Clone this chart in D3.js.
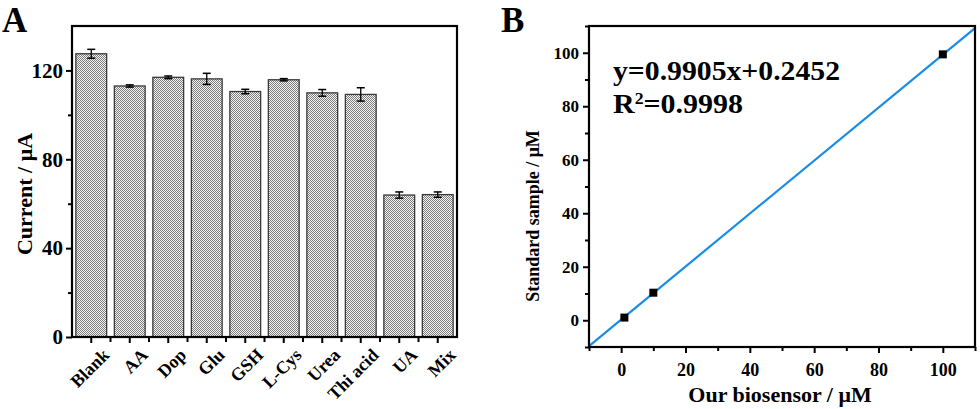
<!DOCTYPE html>
<html>
<head>
<meta charset="utf-8">
<style>
  body { margin: 0; background: #fff; }
  text { font-family: "Liberation Serif", "Times New Roman", serif; font-weight: bold; fill: #000; }
  .axis path, .axis line { stroke: #000; }
</style>
</head>
<body>
<div id="chart"></div>
<script src="https://d3js.org/d3.v7.min.js"></script>
<script>
// ---- panel A data: interference test ----
var categories = ["Blank", "AA", "Dop", "Glu", "GSH", "L-Cys", "Urea", "Thi acid", "UA", "Mix"];
var currents   = [127.5, 113.0, 116.9, 116.2, 110.5, 115.8, 109.9, 109.2, 63.9, 64.1];
var currentErr = [2.0, 0.5, 0.6, 2.5, 1.0, 0.5, 1.5, 3.0, 1.4, 1.2];
var yTicksA = [0, 40, 80, 120];

// ---- panel B data: biosensor vs standard ----
var sensorX   = [1, 10, 100];
var standardY = [1.0, 10.3, 99.4];
var slope = 0.9905, intercept = 0.2452;
var xTicksB = [0, 20, 40, 60, 80, 100];
var yTicksB = [0, 20, 40, 60, 80, 100];

var W = 980, H = 409;
var svg = d3.select("#chart").append("svg")
    .attr("width", W).attr("height", H);

// checker fill for the bars
var defs = svg.append("defs");
var pat = defs.append("pattern").attr("id", "checks")
    .attr("patternUnits", "userSpaceOnUse").attr("width", 2).attr("height", 2);
pat.append("rect").attr("width", 2).attr("height", 2).attr("fill", "#f6f6f6");
pat.append("rect").attr("width", 1).attr("height", 1).attr("fill", "#7a7a7a");
pat.append("rect").attr("x", 1).attr("y", 1).attr("width", 1).attr("height", 1).attr("fill", "#7a7a7a");

// ================= Panel A =================
var A = {left: 72, right: 457, top: 26, bottom: 337};

var xA = d3.scaleBand().domain(categories)
    .range([A.left, A.right]).paddingInner(0.2).paddingOuter(0.1);
var yA = d3.scaleLinear().domain([0, 140]).range([A.bottom, A.top]);

var gA = svg.append("g");

gA.selectAll("rect.bar").data(categories).enter().append("rect")
    .attr("class", "bar")
    .attr("x", function(d) { return xA(d); })
    .attr("y", function(d, i) { return yA(currents[i]); })
    .attr("width", xA.bandwidth())
    .attr("height", function(d, i) { return yA(0) - yA(currents[i]); })
    .attr("fill", "url(#checks)")
    .attr("stroke", "#3a3a3a").attr("stroke-width", 1.3);

// error bars
var eb = gA.selectAll("g.err").data(categories).enter().append("g").attr("class", "err");
eb.append("line")
    .attr("x1", function(d) { return xA(d) + xA.bandwidth() / 2; })
    .attr("x2", function(d) { return xA(d) + xA.bandwidth() / 2; })
    .attr("y1", function(d, i) { return yA(currents[i] - currentErr[i]); })
    .attr("y2", function(d, i) { return yA(currents[i] + currentErr[i]); })
    .attr("stroke", "#000").attr("stroke-width", 1.3);
[-1, 1].forEach(function(s) {
  eb.append("line")
      .attr("x1", function(d) { return xA(d) + xA.bandwidth() / 2 - 4; })
      .attr("x2", function(d) { return xA(d) + xA.bandwidth() / 2 + 4; })
      .attr("y1", function(d, i) { return yA(currents[i] + s * currentErr[i]); })
      .attr("y2", function(d, i) { return yA(currents[i] + s * currentErr[i]); })
      .attr("stroke", "#000").attr("stroke-width", 1.5);
});

// frame
gA.append("rect").attr("x", A.left).attr("y", A.top)
    .attr("width", A.right - A.left).attr("height", A.bottom - A.top)
    .attr("fill", "none").attr("stroke", "#000").attr("stroke-width", 2.2);

// y axis
var yAxisA = gA.append("g").attr("class", "axis")
    .attr("transform", "translate(" + A.left + ",0)")
    .call(d3.axisLeft(yA).tickValues(yTicksA).tickSize(6).tickPadding(3));
yAxisA.select(".domain").remove();
yAxisA.selectAll("line").attr("stroke-width", 2);
yAxisA.selectAll("text").style("font-size", "21px");
gA.append("g").attr("class", "axis")
    .attr("transform", "translate(" + A.left + ",0)")
    .call(d3.axisLeft(yA).tickValues([20, 60, 100]).tickSize(4).tickFormat(""))
    .call(function(g) { g.select(".domain").remove(); g.selectAll("line").attr("stroke-width", 2); });

// x ticks at centres and at the gaps between bars
var step = xA.step();
var edgeTicks = d3.range(1, categories.length).map(function(i) { return A.left + i * step; });
var xAxisA = gA.append("g").attr("class", "axis")
    .attr("transform", "translate(0," + A.bottom + ")")
    .call(d3.axisBottom(xA).tickSize(6).tickPadding(4));
xAxisA.select(".domain").remove();
xAxisA.selectAll("line").attr("stroke-width", 2);
xAxisA.selectAll("text")
    .style("font-size", "18px")
    .attr("text-anchor", "end")
    .attr("dy", "0")
    .attr("transform", "translate(12,12) rotate(-45)");
gA.selectAll("line.edge").data(edgeTicks).enter().append("line")
    .attr("class", "edge")
    .attr("x1", function(d) { return d; }).attr("x2", function(d) { return d; })
    .attr("y1", A.bottom).attr("y2", A.bottom + 5)
    .attr("stroke", "#000").attr("stroke-width", 2);

gA.append("text")
    .attr("transform", "translate(32,194) rotate(-90)")
    .attr("text-anchor", "middle")
    .style("font-size", "22px")
    .text("Current / \u03bcA");

gA.append("text").attr("x", 2).attr("y", 32).style("font-size", "35px").text("A");

// ================= Panel B =================
var B = {left: 589, right: 975, top: 26, bottom: 347};
var xB = d3.scaleLinear().domain([-10, 110]).range([B.left, B.right]);
var yB = d3.scaleLinear().domain([-10, 110]).range([B.bottom, B.top]);

var gB = svg.append("g");

// fit line
var fitLine = d3.line()
    .x(function(d) { return xB(d); })
    .y(function(d) { return yB(slope * d + intercept); });
gB.append("path").datum([-10, 110])
    .attr("d", fitLine)
    .attr("fill", "none").attr("stroke", "#1a8ce6").attr("stroke-width", 2.2);

// points
gB.selectAll("rect.pt").data(sensorX).enter().append("rect")
    .attr("class", "pt")
    .attr("x", function(d) { return xB(d) - 4; })
    .attr("y", function(d, i) { return yB(standardY[i]) - 4; })
    .attr("width", 8).attr("height", 8)
    .attr("fill", "#000");

gB.append("rect").attr("x", B.left).attr("y", B.top)
    .attr("width", B.right - B.left).attr("height", B.bottom - B.top)
    .attr("fill", "none").attr("stroke", "#000").attr("stroke-width", 2.2);

var xAxisB = gB.append("g").attr("class", "axis")
    .attr("transform", "translate(0," + B.bottom + ")")
    .call(d3.axisBottom(xB).tickValues(xTicksB).tickSize(6).tickPadding(10));
xAxisB.select(".domain").remove();
xAxisB.selectAll("line").attr("stroke-width", 2);
xAxisB.selectAll("text").style("font-size", "18px");
gB.append("g").attr("class", "axis")
    .attr("transform", "translate(0," + B.bottom + ")")
    .call(d3.axisBottom(xB).tickValues([-10, 10, 30, 50, 70, 90, 110]).tickSize(4).tickFormat(""))
    .call(function(g) { g.select(".domain").remove(); g.selectAll("line").attr("stroke-width", 2); });

var yAxisB = gB.append("g").attr("class", "axis")
    .attr("transform", "translate(" + B.left + ",0)")
    .call(d3.axisLeft(yB).tickValues(yTicksB).tickSize(6).tickPadding(4));
yAxisB.select(".domain").remove();
yAxisB.selectAll("line").attr("stroke-width", 2);
yAxisB.selectAll("text").style("font-size", "17px");
gB.append("g").attr("class", "axis")
    .attr("transform", "translate(" + B.left + ",0)")
    .call(d3.axisLeft(yB).tickValues([-10, 10, 30, 50, 70, 90, 110]).tickSize(4).tickFormat(""))
    .call(function(g) { g.select(".domain").remove(); g.selectAll("line").attr("stroke-width", 2); });

gB.append("text")
    .attr("transform", "translate(539,216) rotate(-90)")
    .attr("text-anchor", "middle")
    .style("font-size", "18px")
    .text("Standard sample / \u03bcM");

gB.append("text")
    .attr("x", 780).attr("y", 402)
    .attr("text-anchor", "middle")
    .style("font-size", "22px")
    .text("Our biosensor / \u03bcM");

gB.append("text").attr("x", 613).attr("y", 80)
    .attr("textLength", 227).attr("lengthAdjust", "spacingAndGlyphs")
    .style("font-size", "27px")
    .text("y=" + slope + "x+" + intercept);
var r2 = gB.append("text").attr("x", 613).attr("y", 113)
    .attr("textLength", 130).attr("lengthAdjust", "spacingAndGlyphs")
    .style("font-size", "27px");
r2.append("tspan").text("R");
r2.append("tspan").attr("dy", -9).style("font-size", "16px").text("2");
r2.append("tspan").attr("dy", 9).text("=0.9998");

gB.append("text").attr("x", 501).attr("y", 32).style("font-size", "35px").text("B");
</script>
</body>
</html>
